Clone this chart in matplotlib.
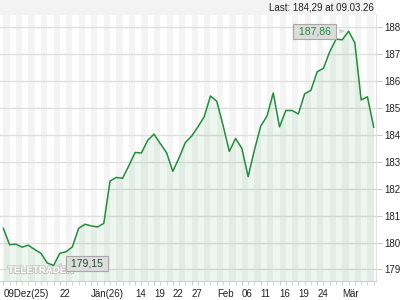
import matplotlib
matplotlib.use("Agg")
import matplotlib.pyplot as plt
import matplotlib.patheffects as pe
from matplotlib.patches import Rectangle
import numpy as np

plt.rcParams["font.family"] = ["Liberation Sans", "DejaVu Sans"]

# ── data (daily closes, 09.12.25 - 09.03.26) ────────────────────────────────
prices = [
    180.53, 179.92, 179.94, 179.83, 179.90, 179.74, 179.60, 179.24, 179.15, 179.60,
    179.66, 179.84, 180.53, 180.68, 180.62, 180.58, 180.71, 182.29, 182.42, 182.39,
    182.86, 183.35, 183.33, 183.80, 184.03, 183.68, 183.34, 182.65, 183.15, 183.72,
    183.96, 184.30, 184.68, 185.45, 185.25, 184.36, 183.39, 183.87, 183.50, 182.45,
    183.44, 184.33, 184.70, 185.56, 184.30, 184.91, 184.91, 184.78, 185.53, 185.66,
    186.35, 186.48, 187.10, 187.56, 187.54, 187.86, 187.42, 185.30, 185.42, 184.29,
]
tick_idx = [0, 9, 14, 21, 24, 27, 30, 34, 38, 41, 44, 47, 50, 54]
tick_text = ["09Dez(25)", "22", "Jän(26)", "14", "19", "22", "27",
             "Feb", "06", "11", "16", "19", "24", "Mär"]
y_ticks = list(range(179, 189))
last_text = "Last: 184,29 at 09.03.26"
hi_text = "187,86"
lo_text = "179,15"

LINE = "#1f8f3c"
STRIPE = "#f4f4f4"
GRID = "#e0e0e0"

x = np.arange(len(prices))

fig = plt.figure(figsize=(4.2, 3.0), dpi=100)
fig.patches.append(Rectangle((0, 0.95), 0.895, 0.05, transform=fig.transFigure,
                             facecolor="#f3f3f3", edgecolor="none"))
fig.text(0.89, 0.976, last_text, ha="right", va="center", fontsize=7, color="#222222")

ax = fig.add_axes([0, 0.0633, 0.895, 0.8867])
ax.set_xlim(-0.53, 59.35)
ax.set_ylim(178.57, 188.46)

# alternating day stripes
for k in range(0, len(prices), 2):
    ax.axvspan(k, k + 1, color=STRIPE, lw=0, zorder=0)

ax.fill_between(x, prices, 178.57, color=LINE, alpha=0.08, lw=0, zorder=2)
ax.plot(x, prices, color=LINE, lw=1.1, zorder=4)

# axes styling
ax.yaxis.tick_right()
ax.set_yticks(y_ticks)
ax.set_yticklabels([str(v) for v in y_ticks])
ax.grid(axis="y", color=GRID, lw=1, zorder=1)
ax.tick_params(axis="y", length=4, color="#cccccc", pad=2, labelsize=7, labelcolor="#222222")

ax.set_xticks(tick_idx)
ax.set_xticklabels(tick_text)
ax.set_xticks(x, minor=True)
ax.tick_params(axis="x", which="both", length=3, color="#cccccc", pad=3,
               labelsize=7, labelcolor="#222222")
for lbl in ax.get_xticklabels():
    lbl.set_horizontalalignment("left")

for s in ("top", "left"):
    ax.spines[s].set_visible(False)
ax.spines["bottom"].set_color("#d0d0d0")
ax.spines["right"].set_color("#e0e0e0")

# watermark (under the callout box)
ax.text(8 / 420, 1 - 270 / 300, "TELETRADER", ha="left", va="center",
        fontsize=7, fontweight="bold", color="white", transform=fig.transFigure,
        path_effects=[pe.withStroke(linewidth=1.5, foreground="#c8c8c8")], zorder=3)

# high / low callouts
box = dict(boxstyle="square,pad=0.25", fc="#dcdcdc", ec="#a8a8a8", lw=0.8)
wedge = dict(arrowstyle="wedge,tail_width=0.5", fc="#d4d4d4", ec="none")
imax = int(np.argmax(prices))
imin = int(np.argmin(prices))
ax.annotate(f" {hi_text} ", xy=(imax, prices[imax]), xytext=(-24.6, 0),
            textcoords="offset points", ha="center", va="center", fontsize=7.5,
            color="#1f8f3c", bbox=box, arrowprops=wedge, zorder=6)
ax.annotate(f" {lo_text} ", xy=(imin, prices[imin]), xytext=(24.1, 1.1),
            textcoords="offset points", ha="center", va="center", fontsize=7.5,
            color="#234f2c", bbox=box, arrowprops=wedge, zorder=6)

fig.savefig("out.png", dpi=100)
